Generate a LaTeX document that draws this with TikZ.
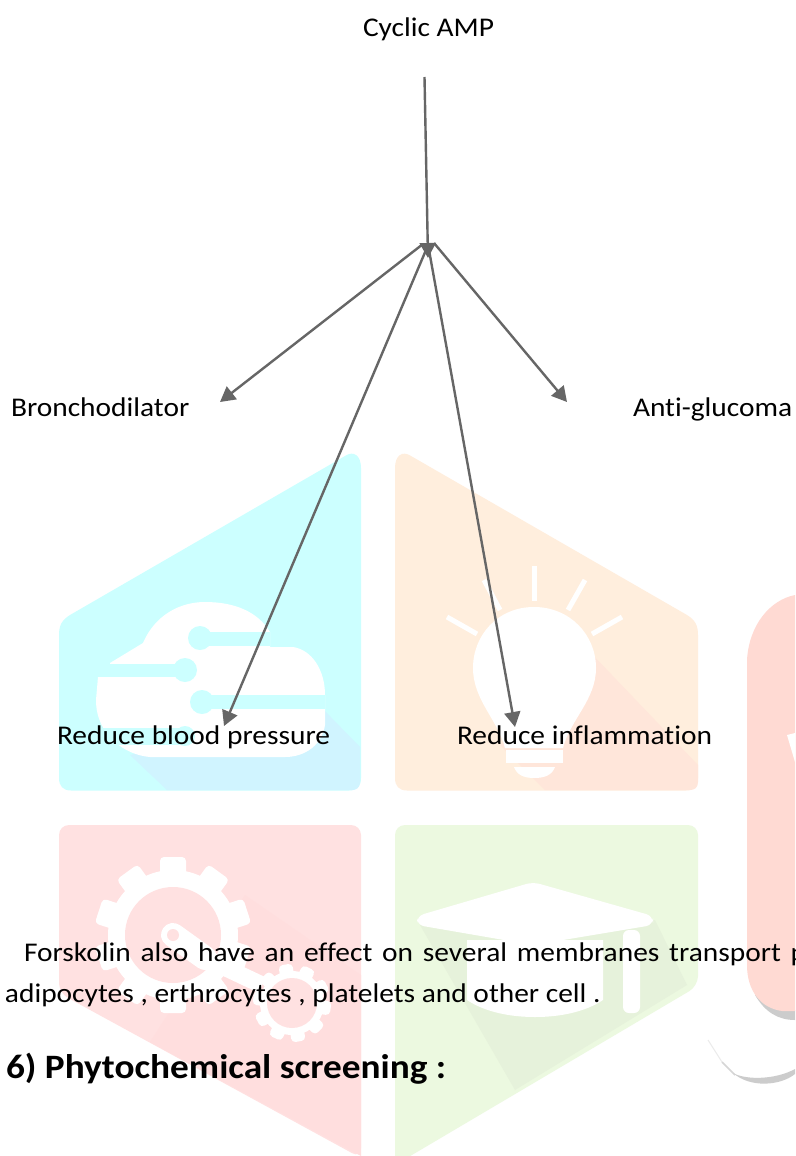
\documentclass[tikz,border=0pt]{standalone}
\usepackage{fontspec}
\setmainfont[FakeStretch=1.09,Ligatures=NoCommon]{Carlito}
\usetikzlibrary{arrows.meta}
\definecolor{linegray}{HTML}{666666}
\definecolor{tilecyan}{HTML}{CCFFFF}
\definecolor{shadecyan}{HTML}{D0F4FF}
\definecolor{tileorange}{HTML}{FFEEDD}
\definecolor{shadeorange}{HTML}{FFE6DA}
\definecolor{tilepink}{HTML}{FFE1E1}
\definecolor{shadepink}{HTML}{FFDEDE}
\definecolor{tilegreen}{HTML}{ECF9E0}
\definecolor{shadegreen}{HTML}{E6F2DB}
\definecolor{tilesalmon}{HTML}{FFDAD3}
\definecolor{rimgray}{HTML}{CCCCCC}
\tikzset{
	label/.style={inner sep=0,outer sep=0,anchor=base west,font=\fontsize{27}{32}\selectfont},
	heading/.style={inner sep=0,outer sep=0,anchor=base west,font=\fontsize{34.2}{40}\selectfont\bfseries},
	flow/.style={draw=linegray,line width=2.4pt,-{Triangle[length=15pt,width=16pt]}},
	blank/.style={fill=white,draw=none},
	ray/.style={draw=white,line width=5pt},
	tooth/.style={fill=white,draw=none,rounded corners=4pt},
}
\newcommand{\gearshape}[5]{
	\foreach \a in {0,36,...,324}
		\fill[tooth,rotate around={\a+#5:(#1,#2)}] (#1-#4,#2-#3-#4) rectangle (#1+#4,#2);
	\fill[white] (#1,#2) circle ({#3});
}
\begin{document}
\begin{tikzpicture}[x=1pt,y=-1pt]
	\useasboundingbox (0,0) rectangle (795,1156);
	\clip (0,0) rectangle (795,1156);
	\fill[white] (0,0) rectangle (795,1156);
	\fill[tilecyan] (361,468) .. controls (361,456) and (354,450) .. (345,456) -- (70,615) .. controls (62,620) and (59,625) .. (59,635) -- (59,778) .. controls (59,786) and (63,790.5) .. (71,790.5) -- (349,790.5) .. controls (357,790.5) and (361,786) .. (361,778) -- cycle;
	\fill[shadecyan] (130,755) -- (322,708) -- (360,747) -- (360,782) .. controls (360,788) and (356,790) .. (352,790) -- (167,790) -- cycle;
	\fill[blank] (110,663) -- (143,643) .. controls (155,615) and (180,602) .. (205,602) .. controls (235,602) and (258,612) .. (270,632) -- (270,647) -- (293,647) .. controls (312,650) and (325,670) .. (325,695) -- (325,725) .. controls (322,745) and (305,757) .. (285,757) -- (150,757) .. controls (125,755) and (96,735) .. (96,700) -- (98,677) -- (110,677) -- cycle;
	\fill[tilecyan] (200,632) rectangle (270,646);
	\fill[tilecyan] (200,638) circle (12);
	\fill[tilecyan] (98,664) rectangle (185,677);
	\fill[tilecyan] (185,670) circle (12);
	\fill[tilecyan] (202,695) rectangle (325,709);
	\fill[tilecyan] (202,702) circle (12);
	\fill[tilecyan] (100,728) rectangle (185,745);
	\fill[tilecyan] (185,736) circle (10);
	\fill[tileorange] (395,468) .. controls (395,456) and (402,450) .. (411,456) -- (687,615) .. controls (695,620) and (698,625) .. (698,635) -- (698,778) .. controls (698,786) and (694,790.5) .. (686,790.5) -- (407,790.5) .. controls (399,790.5) and (395,786) .. (395,778) -- cycle;
	\fill[shadeorange] (590,652) -- (698,765) -- (698,782) .. controls (698,788) and (694,790) .. (690,790) -- (545,790) -- (500,745) -- cycle;
	\fill[blank] (534,607) .. controls (570,607) and (596,635) .. (596,668) .. controls (596,700) and (570,720) .. (563,748) -- (505,748) .. controls (498,720) and (473,700) .. (473,668) .. controls (473,635) and (498,607) .. (534,607) -- cycle;
	\fill[blank] (506,750) rectangle (563,763);
	\fill[blank] (514,767) -- (555,767) .. controls (552,775) and (545,778) .. (534,778) .. controls (524,778) and (517,775) .. (514,767) -- cycle;
	\draw[ray] (534.5,566) -- (534.5,601);
	\draw[ray] (585,580) -- (568,610);
	\draw[ray] (622,617) -- (592,634);
	\draw[ray] (484,580) -- (500,610);
	\draw[ray] (447,617) -- (477,634);
	\fill[tilepink,rounded corners=10pt] (59,825) -- (361,825) -- (361,1158) -- (59,993) -- cycle;
	\fill[shadepink] (245,895) -- (361,975) -- (361,1156) -- (150,1042) -- cycle;
	\gearshape{173}{935}{65}{13}{0}
	\gearshape{292}{1003}{32}{7}{10}
	\fill[tilepink] (173,935) circle (48);
	\fill[tilepink] (292,1003) circle (25);
	\draw[white,line width=24pt,line cap=round] (173,935) -- (205,958);
	\draw[white,line width=17pt] (205,958) -- (262,985);
	\fill[tilepink] (173,935) circle (6);
	\fill[tilegreen,rounded corners=10pt] (395,825) -- (698,825) -- (698,986) -- (395,1165) -- cycle;
	\fill[shadegreen] (420,925) -- (655,920) -- (687,985) -- (515,1090) -- cycle;
	\fill[blank] (467,940) -- (603,940) -- (603,1000) .. controls (585,1012) and (560,1017) .. (535,1017) .. controls (510,1017) and (485,1012) .. (467,1000) -- cycle;
	\fill[blank,rounded corners=7pt] (533,882) -- (653,916) -- (653,925) -- (533,945) -- (417,925) -- (417,916) -- cycle;
	\fill[blank,rounded corners=6pt] (623,930) -- (640,930) -- (640,1013) -- (623,1013) -- cycle;
	\fill[rimgray] (755,995) .. controls (765,1012) and (778,1020) .. (795,1020) -- (795,1010) -- cycle;
	\fill[tilesalmon] (747,660) .. controls (749,625) and (770,600) .. (795,595) -- (795,1011) -- (782,1011) .. controls (760,1008) and (747,990) .. (747,965) -- cycle;
	\fill[blank] (787,735) -- (795,733) -- (795,762) -- cycle;
	\draw[rimgray!40,line width=1pt] (708,1040) -- (722,1062);
	\draw[rimgray!80,line width=1.5pt] (722,1062) -- (735,1075);
	\fill[rimgray] (733,1073) .. controls (745,1080) and (775,1080) .. (795,1069) -- (795,1074) .. controls (780,1086) and (750,1088) .. (733,1073) -- cycle;
	\node[label] (camp) at (363,37) {Cyclic AMP};
	\node[label] (broncho) at (11,416) {Bronchodilator};
	\node[label] (glucoma) at (633,416) {Anti-glucoma};
	\node[label] (pressure) at (57,744) {Reduce blood pressure};
	\node[label] (inflam) at (457,744) {Reduce inflammation};
	\node[label] (line1) at (24,961) {\spaceskip=9.8pt Forskolin also have an effect on several membranes transport p};
	\node[label] (line2) at (5,1002) {adipocytes , erthrocytes , platelets and other cell .};
	\node[heading] (screen) at (6,1078) {6) Phytochemical screening :};
	\coordinate (top) at (424.5,77);
	\coordinate (hub) at (428,258);
	\coordinate (from1) at (423,244);
	\coordinate (from2) at (426,250);
	\coordinate (from3) at (429,250);
	\coordinate (from4) at (434,243);
	\coordinate (to1) at (220,402);
	\coordinate (to2) at (224,726);
	\coordinate (to3) at (515,727);
	\coordinate (to4) at (567,402);
	\draw[flow] (top) -- (hub);
	\draw[flow] (from1) -- (to1);
	\draw[flow] (from2) -- (to2);
	\draw[flow] (from3) -- (to3);
	\draw[flow] (from4) -- (to4);
\end{tikzpicture}
\end{document}
